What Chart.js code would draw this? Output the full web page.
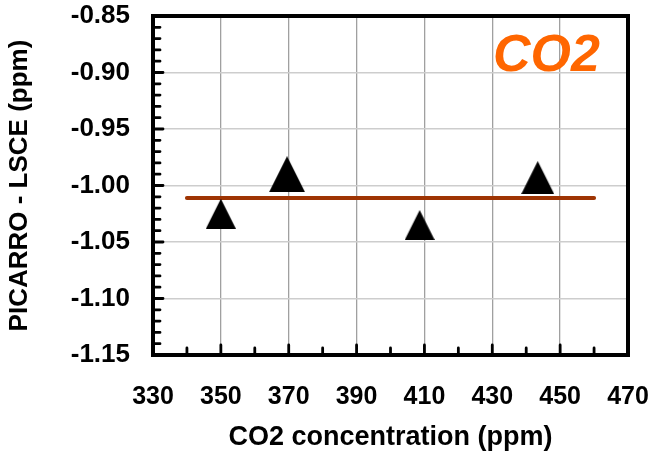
<!DOCTYPE html>
<html>
<head>
<meta charset="utf-8">
<title>PICARRO - LSCE CO2</title>
<script src="https://cdn.jsdelivr.net/npm/chart.js@4.4.1/dist/chart.umd.min.js"></script>
<style>
  html, body { margin:0; padding:0; background:#fff; }
  #wrap { width:652px; height:456px; }
</style>
</head>
<body>
<div id="wrap"><canvas id="chart" width="652" height="456"></canvas></div>
<script>
// ===== DATA =====
const concX = [350, 369.5, 408.6, 443.4];          // CO2 concentration (ppm)
const diffY = [-1.025, -0.990, -1.035, -0.993];    // PICARRO - LSCE (ppm)

const meanLineX = [340, 460];
const meanLineY = [-1.011, -1.011];

const xTicks = [330, 470, 20];        // min, max, step
const yTicks = [-1.15, -0.85, 0.05];  // min, max, step
const xMinorStep = 10;
const yMinorStep = 0.01;

const gasLabel = "CO2";

// ===== STYLE =====
const FONT = "'Liberation Sans', Arial, sans-serif";
const markerSizes = [30, 36, 30, 33];   // triangle height/width in px

// ===== TRIANGLE MARKERS =====
function triangle(size){
  const c = document.createElement("canvas");
  c.width = size;
  c.height = size;
  const g = c.getContext("2d");
  g.fillStyle = "#000";
  g.beginPath();
  g.moveTo(size/2, 0);
  g.lineTo(size, size);
  g.lineTo(0, size);
  g.closePath();
  g.fill();
  return c;
}
const marks = markerSizes.map(triangle);

// ===== FRAME, INNER TICKS, LABEL =====
const framePlugin = {
  id: "frame",
  afterDraw(chart){
    const {ctx, chartArea: a, scales: {x, y}} = chart;
    ctx.save();

    // inward tick marks
    ctx.strokeStyle = "#000";
    ctx.lineWidth = 2.8;
    ctx.lineCap = "round";
    ctx.beginPath();
    for(let v = xTicks[0] + xMinorStep; v < xTicks[1]; v += xMinorStep){
      const px = x.getPixelForValue(v);
      const major = Math.round((v - xTicks[0]) / xMinorStep) % 2 === 0;
      ctx.moveTo(px, a.bottom);
      ctx.lineTo(px, a.bottom - (major ? 10 : 7));
    }
    const nY = Math.round((yTicks[1] - yTicks[0]) / yMinorStep);
    for(let i = 1; i < nY; i++){
      const py = y.getPixelForValue(yTicks[0] + i * yMinorStep);
      const major = i % 5 === 0;
      ctx.moveTo(a.left, py);
      ctx.lineTo(a.left + (major ? 10 : 7), py);
    }
    ctx.stroke();

    // plot border
    ctx.lineWidth = 4;
    ctx.lineCap = "butt";
    ctx.strokeRect(a.left, a.top, a.right - a.left, a.bottom - a.top);

    // gas name
    ctx.fillStyle = "#ff6600";
    ctx.font = "italic bold 52px " + FONT;
    ctx.textAlign = "left";
    ctx.textBaseline = "alphabetic";
    ctx.fillText(gasLabel, 493, 71);
    ctx.restore();
  }
};

// ===== CHART =====
const ctx = document.getElementById("chart").getContext("2d");

new Chart(ctx, {
  type: "scatter",
  data: {
    datasets: [
      {
        label: "mean",
        type: "line",
        data: meanLineX.map((v, i) => ({x: v, y: meanLineY[i]})),
        borderColor: "#9e3403",
        borderWidth: 4,
        borderCapStyle: "round",
        pointRadius: 0,
        order: 2
      },
      {
        label: "PICARRO - LSCE",
        data: concX.map((v, i) => ({x: v, y: diffY[i]})),
        pointStyle: c => marks[c.dataIndex],
        pointRadius: 15,
        backgroundColor: "#000",
        borderColor: "#000",
        order: 1
      }
    ]
  },
  options: {
    responsive: false,
    animation: false,
    events: [],
    layout: { padding: { left: 0, top: 16, right: 24, bottom: 0 } },
    plugins: {
      legend: { display: false },
      tooltip: { enabled: false }
    },
    scales: {
      x: {
        type: "linear",
        min: xTicks[0],
        max: xTicks[1],
        afterFit: s => {
          s.height = 101;
          s.paddingLeft = 0;
          s.paddingRight = 0;
        },
        ticks: {
          stepSize: xTicks[2],
          color: "#000",
          padding: 27,
          font: { family: FONT, size: 25, weight: "bold" }
        },
        grid: { color: "#a0a0a0", lineWidth: 1.3, drawTicks: false },
        border: { display: false },
        title: {
          display: true,
          text: "CO2 concentration (ppm)",
          color: "#000",
          padding: { bottom: 2 },
          font: { family: FONT, size: 27, weight: "bold" }
        }
      },
      y: {
        type: "linear",
        min: yTicks[0],
        max: yTicks[1],
        afterFit: s => {
          s.width = 153;
          s.paddingTop = 0;
          s.paddingBottom = 0;
        },
        ticks: {
          stepSize: yTicks[2],
          color: "#000",
          padding: 23,
          font: { family: FONT, size: 26, weight: "bold" },
          callback: v => v.toFixed(2)
        },
        grid: { color: "#cdcdcd", lineWidth: 1.5, drawTicks: false },
        border: { display: false },
        title: {
          display: true,
          text: "PICARRO - LSCE (ppm)",
          color: "#000",
          padding: { top: 4 },
          font: { family: FONT, size: 26, weight: "bold" }
        }
      }
    }
  },
  plugins: [framePlugin]
});
</script>
</body>
</html>
